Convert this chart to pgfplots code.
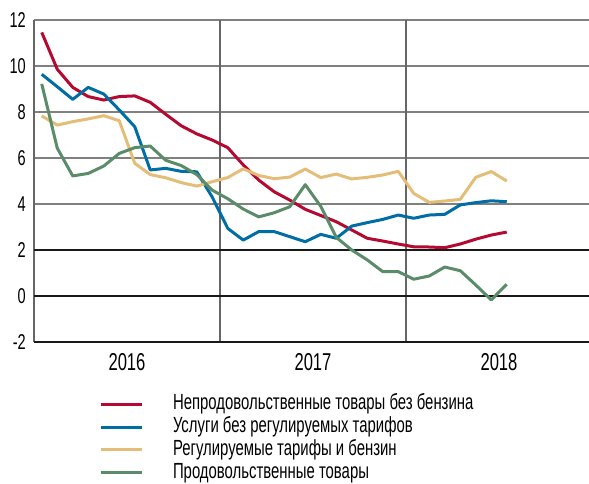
\documentclass[border=0pt]{standalone}
\usepackage{pgfplots}
\pgfplotsset{compat=1.18}
\usepackage{fontspec}
\setmainfont{Liberation Sans}
\newfontfamily\condfont[FakeStretch=0.68]{Liberation Sans}
\definecolor{cred}{HTML}{B40A32}
\definecolor{cblue}{HTML}{006EA5}
\definecolor{ctan}{HTML}{E4BE78}
\definecolor{cgreen}{HTML}{5A8C69}
\definecolor{gridgray}{HTML}{808080}
\definecolor{spinegray}{HTML}{666666}
\begin{document}
\begin{tikzpicture}
\useasboundingbox (-34bp,-142bp) rectangle (555bp,342bp);
\begin{axis}[
  at={(0,0)}, anchor=south west,
  scale only axis, width=558bp, height=322bp,
  xmin=0, xmax=36, ymin=-2, ymax=12,
  axis line style={draw=none},
  xtick={6,18,30}, xticklabels={2016,2017,2018},
  ytick={4,6,8,10,12}, yticklabels={4,6,8,10,12},
  major tick length=0, minor tick length=0,
  ymajorgrids,
  major grid style={color=gridgray, line width=1.3bp},
  extra y ticks={-2,0,2}, extra y tick labels={-2,0,2},
  extra y tick style={major grid style={color=black!90, line width=1.2bp}},
  extra x ticks={0,12,24}, extra x tick labels={},
  extra x tick style={grid=major, major grid style={color=spinegray, line width=1.3bp}},
  xticklabel style={font=\condfont\fontsize{24.5}{24.5}\selectfont, anchor=north, inner sep=0pt, yshift=-11bp},
  yticklabel style={font=\condfont\fontsize{21.5}{21.5}\selectfont, anchor=east, inner sep=0pt, xshift=-8bp},
  legend cell align=left,
  legend style={at={(axis description cs:0.1165,-0.1630)}, anchor=north west, draw=none, fill=none,
    inner sep=0pt, outer sep=0pt, row sep=3.3bp, column sep=30bp,
    font=\condfont\fontsize{22}{22}\selectfont,
    nodes={inner sep=0pt, text height=15.5bp, text depth=4bp}},
  legend image code/.code={\draw[#1, line width=3bp] (0bp,0bp) -- (41bp,0bp);},
  every axis plot/.append style={line width=3bp, line join=round, mark=none},
]
\addplot[cred] coordinates {
(0.5,11.46) (1.5,9.86) (2.5,9.07) (3.5,8.67) (4.5,8.52) (5.5,8.67) (6.5,8.70) (7.5,8.42)
(8.5,7.90) (9.5,7.40) (10.5,7.05) (11.5,6.78) (12.5,6.45) (13.5,5.70) (14.5,5.04) (15.5,4.53)
(16.5,4.17) (17.5,3.77) (18.5,3.50) (19.5,3.23) (20.5,2.87) (21.5,2.51) (22.5,2.39) (23.5,2.26)
(24.5,2.14) (25.5,2.13) (26.5,2.10) (27.5,2.26) (28.5,2.47) (29.5,2.65) (30.5,2.78)};
\addlegendentry{Непродовольственные товары без бензина}
\addplot[cblue] coordinates {
(0.5,9.64) (1.5,9.10) (2.5,8.55) (3.5,9.07) (4.5,8.78) (5.5,8.09) (6.5,7.36) (7.5,5.48)
(8.5,5.55) (9.5,5.42) (10.5,5.40) (11.5,4.30) (12.5,2.94) (13.5,2.43) (14.5,2.80) (15.5,2.80)
(16.5,2.58) (17.5,2.36) (18.5,2.68) (19.5,2.51) (20.5,3.04) (21.5,3.19) (22.5,3.33) (23.5,3.52)
(24.5,3.38) (25.5,3.52) (26.5,3.55) (27.5,3.96) (28.5,4.06) (29.5,4.14) (30.5,4.10)};
\addlegendentry{Услуги без регулируемых тарифов}
\addplot[ctan] coordinates {
(0.5,7.83) (1.5,7.43) (2.5,7.58) (3.5,7.70) (4.5,7.84) (5.5,7.62) (6.5,5.77) (7.5,5.28)
(8.5,5.14) (9.5,4.93) (10.5,4.78) (11.5,4.97) (12.5,5.15) (13.5,5.53) (14.5,5.24) (15.5,5.10)
(16.5,5.17) (17.5,5.52) (18.5,5.15) (19.5,5.30) (20.5,5.09) (21.5,5.16) (22.5,5.26) (23.5,5.42)
(24.5,4.46) (25.5,4.07) (26.5,4.13) (27.5,4.20) (28.5,5.16) (29.5,5.41) (30.5,5.00)};
\addlegendentry{Регулируемые тарифы и бензин}
\addplot[cgreen] coordinates {
(0.5,9.22) (1.5,6.43) (2.5,5.22) (3.5,5.33) (4.5,5.65) (5.5,6.20) (6.5,6.45) (7.5,6.52)
(8.5,5.90) (9.5,5.67) (10.5,5.28) (11.5,4.60) (12.5,4.23) (13.5,3.78) (14.5,3.44) (15.5,3.62)
(16.5,3.88) (17.5,4.84) (18.5,3.90) (19.5,2.55) (20.5,2.00) (21.5,1.57) (22.5,1.06) (23.5,1.06)
(24.5,0.73) (25.5,0.87) (26.5,1.26) (27.5,1.10) (28.5,0.48) (29.5,-0.17) (30.5,0.51)};
\addlegendentry{Продовольственные товары}
\end{axis}
\end{tikzpicture}
\end{document}
